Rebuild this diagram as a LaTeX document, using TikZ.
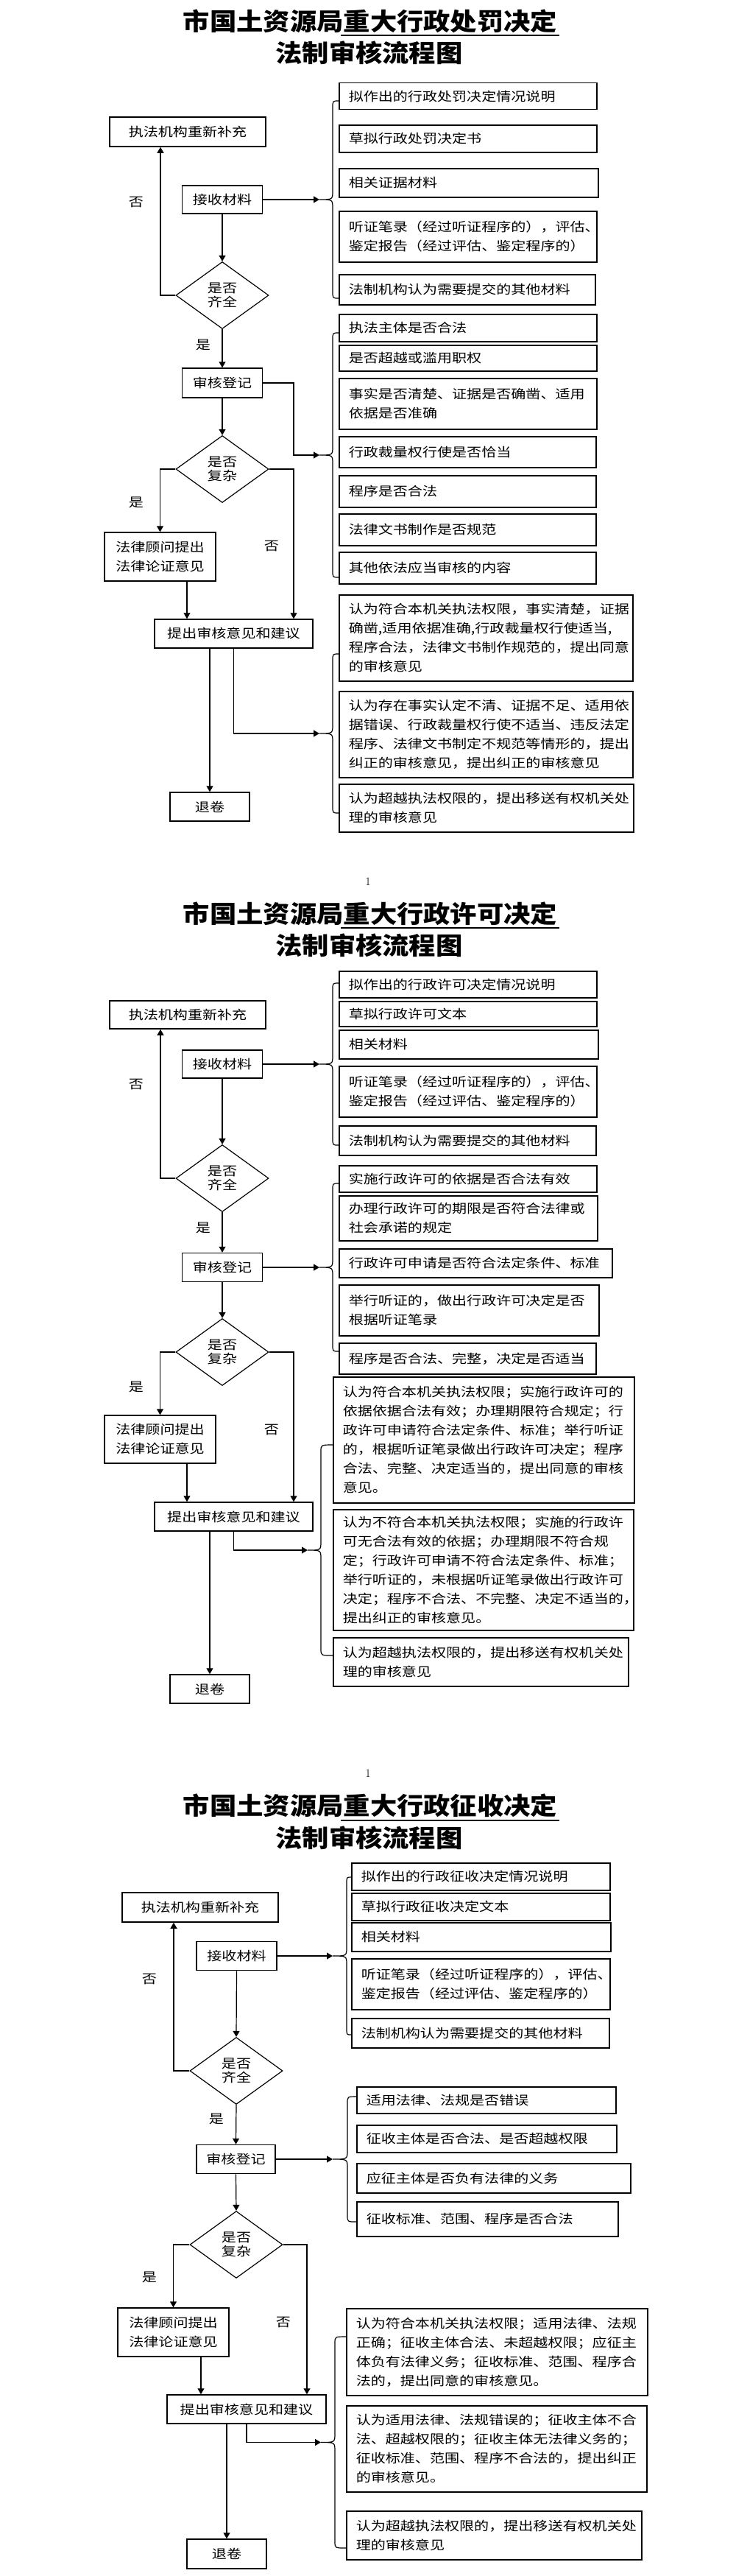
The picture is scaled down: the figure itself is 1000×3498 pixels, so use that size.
\documentclass[tikz,border=0pt]{standalone}
\usepackage{fontspec}
\usetikzlibrary{arrows.meta,shapes.geometric}
\newfontfamily\zwfont[FakeStretch=1.18]{Noto Sans CJK SC}
\newfontfamily\btfont[FakeStretch=1.1]{Noto Sans CJK SC}
\newcommand{\zw}{\zwfont\fontsize{17}{26}\selectfont}
\newcommand{\zwl}{\zwfont\fontsize{17}{19}\selectfont}
\newcommand{\bt}{\btfont\bfseries\fontsize{33}{43}\selectfont}
% 大括号: 名称, 框左边x, 竖线x, 尖端x, 上端y, 下端y
\newcommand{\kuohao}[6]{%
  \coordinate (#1) at (#4,{(#5+#6)/2});
  \draw[kh] (#2,#5) .. controls (#3,#5) .. (#3,#5+9)
    -- (#3,{(#5+#6)/2-12}) .. controls (#3,{(#5+#6)/2}) .. (#1)
    .. controls (#3,{(#5+#6)/2}) .. (#3,{(#5+#6)/2+12})
    -- (#3,#6-9) .. controls (#3,#6) .. (#2,#6);}
\tikzset{
  kuang/.style={draw,line width=1.5pt,inner sep=0pt,font=\zw,align=center},
  yk/.style 2 args={draw,line width=1.5pt,anchor=north west,inner xsep=13pt,inner ysep=0pt,
    align=left,font=\zw,minimum width=#1pt,minimum height=#2pt,
    /utils/exec={\pgfmathsetmacro\kuan{#1-26}},text width=\kuan pt},
  lingxing/.style={draw,diamond,line width=1.2pt,inner sep=0pt,font=\zwl,align=center,
    minimum width=126pt,minimum height=91pt},
  jt/.style={-{Triangle[length=8pt,width=9pt]},line width=1.2pt},
  kh/.style={line width=1.2pt},
  bq/.style={font=\zw},
  bt/.style={font=\bt,inner sep=0pt}
}
\begin{document}
\begin{tikzpicture}[x=1pt,y=-1pt]
\useasboundingbox (0,0) rectangle (1000,3498);
\fill[white] (0,0) rectangle (1000,3498);

% ===================== 处罚 =====================
\node[bt] (bt1a) at (503,29) {市国土资源局重大行政处罚决定};
\node[bt] (bt1b) at (501.5,72) {法制审核流程图};
\draw[line width=2pt] (463,48) -- (760,48);

\node[kuang,minimum width=212pt,minimum height=40pt] (bc1) at (255,179) {执法机构重新补充};
\node[kuang,minimum width=109pt,minimum height=38pt] (js1) at (302,271) {接收材料};
\node[lingxing] (qq1) at (302,401) {是否\\齐全};
\node[kuang,minimum width=109pt,minimum height=40pt] (dj1) at (302,520) {审核登记};
\node[lingxing] (fz1) at (302,637) {是否\\复杂};
\node[kuang,minimum width=151pt,minimum height=66pt] (gw1) at (217.5,756) {法律顾问提出\\法律论证意见};
\node[kuang,minimum width=215pt,minimum height=39pt] (tc1) at (317.5,860.5) {提出审核意见和建议};
\node[kuang,minimum width=108pt,minimum height=39pt] (tj1) at (285,1095.5) {退卷};

\node[bq] (f11) at (185,275) {否};
\node[bq] (s11) at (276,468) {是};
\node[bq] (s12) at (185,682) {是};
\node[bq] (f12) at (369,742) {否};

\node[yk={350}{36}] (a11) at (460,112) {拟作出的行政处罚决定情况说明};
\node[yk={350}{37}] (a12) at (460,169) {草拟行政处罚决定书};
\node[yk={352}{39}] (a13) at (460,228) {相关证据材料};
\node[yk={350}{69}] (a14) at (460,286) {听证笔录（经过听证程序的），评估、\\鉴定报告（经过评估、鉴定程序的）};
\node[yk={348}{41}] (a15) at (460,372) {法制机构认为需要提交的其他材料};

\node[yk={350}{37}] (b11) at (460,426) {执法主体是否合法};
\node[yk={350}{35}] (b12) at (460,468) {是否超越或滥用职权};
\node[yk={350}{69}] (b13) at (460,513) {事实是否清楚、证据是否确凿、适用\\依据是否准确};
\node[yk={349}{42}] (b14) at (460,592) {行政裁量权行使是否恰当};
\node[yk={349}{43}] (b15) at (460,645) {程序是否合法};
\node[yk={349}{43}] (b16) at (460,697) {法律文书制作是否规范};
\node[yk={349}{43}] (b17) at (460,749) {其他依法应当审核的内容};

\node[yk={399}{117}] (c11) at (460,807) {认为符合本机关执法权限，事实清楚，证据\\确凿,适用依据准确,行政裁量权行使适当,\\程序合法，法律文书制作规范的，提出同意\\的审核意见};
\node[yk={399}{117}] (c12) at (460,938) {认为存在事实认定不清、证据不足、适用依\\据错误、行政裁量权行使不适当、违反法定\\程序、法律文书制定不规范等情形的，提出\\纠正的审核意见，提出纠正的审核意见};
\node[yk={400}{65}] (c13) at (460,1064) {认为超越执法权限的，提出移送有权机关处\\理的审核意见};

\kuohao{t11}{460}{452}{434}{137}{405}
\kuohao{t12}{460}{452}{434}{452}{784}
\kuohao{t13}{460}{452}{434}{888}{1104}

\draw[jt] (js1.east) -- (t11);
\draw[jt] (js1.south) -- (qq1.north);
\draw[jt] (qq1.west) -| ([xshift=-37]bc1.south);
\draw[jt] (qq1.south) -- (dj1.north);
\draw[jt] (dj1.east) -| ([xshift=-35]t12) -- (t12);
\draw[jt] (dj1.south) -- (fz1.north);
\draw[jt] (fz1.west) -| (gw1.north);
\draw[jt] (fz1.east) -| ([xshift=81.5]tc1.north);
\draw[jt] ([xshift=36.5]gw1.south) -- ([xshift=36.5]gw1.south |- tc1.north);
\draw[jt] (tj1.north |- tc1.south) -- (tj1.north);
\draw[jt] (tc1.south) |- (t13);

% ===================== 许可 =====================
\node[font=\fontsize{16}{16}\selectfont] (ym1) at (500,1197) {1};
\node[bt] (bt2a) at (503,1241) {市国土资源局重大行政许可决定};
\node[bt] (bt2b) at (501.5,1284) {法制审核流程图};
\draw[line width=2pt] (463,1260) -- (760,1260);

\node[kuang,minimum width=212pt,minimum height=38pt] (bc2) at (255,1378) {执法机构重新补充};
\node[kuang,minimum width=109pt,minimum height=38pt] (js2) at (302,1445) {接收材料};
\node[lingxing] (qq2) at (302,1600) {是否\\齐全};
\node[kuang,minimum width=109pt,minimum height=39pt] (dj2) at (302,1721) {审核登记};
\node[lingxing] (fz2) at (302,1836) {是否\\复杂};
\node[kuang,minimum width=151pt,minimum height=65pt] (gw2) at (217.5,1954.5) {法律顾问提出\\法律论证意见};
\node[kuang,minimum width=215pt,minimum height=39pt] (tc2) at (317.5,2059.5) {提出审核意见和建议};
\node[kuang,minimum width=108pt,minimum height=39pt] (tj2) at (285,2293.5) {退卷};

\node[bq] (f21) at (185,1473) {否};
\node[bq] (s21) at (276,1667) {是};
\node[bq] (s22) at (185,1883) {是};
\node[bq] (f22) at (369,1942) {否};

\node[yk={350}{36}] (a21) at (460,1318) {拟作出的行政许可决定情况说明};
\node[yk={350}{34}] (a22) at (460,1359) {草拟行政许可文本};
\node[yk={352}{39}] (a23) at (460,1398) {相关材料};
\node[yk={350}{69}] (a24) at (460,1447) {听证笔录（经过听证程序的），评估、\\鉴定报告（经过评估、鉴定程序的）};
\node[yk={349}{40}] (a25) at (460,1528) {法制机构认为需要提交的其他材料};

\node[yk={350}{36}] (b21) at (460,1582) {实施行政许可的依据是否合法有效};
\node[yk={351}{61}] (b22) at (460,1623) {办理行政许可的期限是否符合法律或\\社会承诺的规定};
\node[yk={371}{39}] (b23) at (460,1695) {行政许可申请是否符合法定条件、标准};
\node[yk={353}{69}] (b24) at (460,1744) {举行听证的，做出行政许可决定是否\\根据听证笔录};
\node[yk={349}{42}] (b25) at (460,1823) {程序是否合法、完整，决定是否适当};

\node[yk={409}{171}] (c21) at (452,1869) {认为符合本机关执法权限；实施行政许可的\\依据依据合法有效；办理期限符合规定；行\\政许可申请符合法定条件、标准；举行听证\\的，根据听证笔录做出行政许可决定；程序\\合法、完整、决定适当的，提出同意的审核\\意见。};
\node[yk={408}{164}] (c22) at (452,2049) {认为不符合本机关执法权限；实施的行政许\\可无合法有效的依据；办理期限不符合规\\定；行政许可申请不符合法定条件、标准；\\举行听证的，未根据听证笔录做出行政许可\\决定；程序不合法、不完整、决定不适当的，\\提出纠正的审核意见。};
\node[yk={401}{66}] (c23) at (452,2223) {认为超越执法权限的，提出移送有权机关处\\理的审核意见};

\kuohao{t21}{460}{452}{434}{1335}{1555}
\kuohao{t22}{460}{452}{434}{1607}{1835}
\kuohao{t23}{452}{436}{418}{1962}{2248}

\draw[jt] (js2.east) -- (t21);
\draw[jt] (js2.south) -- (qq2.north);
\draw[jt] (qq2.west) -| ([xshift=-37]bc2.south);
\draw[jt] (qq2.south) -- (dj2.north);
\draw[jt] (dj2.east) -- (t22);
\draw[jt] (dj2.south) -- (fz2.north);
\draw[jt] (fz2.west) -| (gw2.north);
\draw[jt] (fz2.east) -| ([xshift=81.5]tc2.north);
\draw[jt] ([xshift=36.5]gw2.south) -- ([xshift=36.5]gw2.south |- tc2.north);
\draw[jt] (tj2.north |- tc2.south) -- (tj2.north);
\draw[jt] (tc2.south) |- (t23);

% ===================== 征收 =====================
\node[font=\fontsize{16}{16}\selectfont] (ym2) at (500,2408) {1};
\node[bt] (bt3a) at (503,2452) {市国土资源局重大行政征收决定};
\node[bt] (bt3b) at (501.5,2496) {法制审核流程图};
\draw[line width=2pt] (463,2472) -- (760,2472);

\node[kuang,minimum width=212pt,minimum height=40pt] (bc3) at (272,2590) {执法机构重新补充};
\node[kuang,minimum width=109pt,minimum height=39pt] (js3) at (321.5,2656) {接收材料};
\node[lingxing] (qq3) at (321,2812) {是否\\齐全};
\node[kuang,minimum width=107pt,minimum height=39pt] (dj3) at (320.5,2932) {审核登记};
\node[lingxing] (fz3) at (321,3048) {是否\\复杂};
\node[kuang,minimum width=151pt,minimum height=66pt] (gw3) at (235.5,3167) {法律顾问提出\\法律论证意见};
\node[kuang,minimum width=216pt,minimum height=39pt] (tc3) at (335,3271.5) {提出审核意见和建议};
\node[kuang,minimum width=108pt,minimum height=40pt] (tj3) at (308,3468) {退卷};

\node[bq] (f31) at (203,2687) {否};
\node[bq] (s31) at (294,2877) {是};
\node[bq] (s32) at (203,3092) {是};
\node[bq] (f32) at (385,3153) {否};

\node[yk={351}{37}] (a31) at (477,2529) {拟作出的行政征收决定情况说明};
\node[yk={351}{37}] (a32) at (477,2570) {草拟行政征收决定文本};
\node[yk={352}{39}] (a33) at (477,2610) {相关材料};
\node[yk={351}{69}] (a34) at (477,2659) {听证笔录（经过听证程序的），评估、\\鉴定报告（经过评估、鉴定程序的）};
\node[yk={350}{40}] (a35) at (477,2740) {法制机构认为需要提交的其他材料};

\node[yk={352}{36}] (b31) at (484,2833) {适用法律、法规是否错误};
\node[yk={353}{37}] (b32) at (484,2885) {征收主体是否合法、是否超越权限};
\node[yk={372}{40}] (b33) at (484,2937) {应征主体是否负有法律的义务};
\node[yk={355}{47}] (b34) at (484,2989) {征收标准、范围、程序是否合法};

\node[yk={409}{118}] (c31) at (470,3134) {认为符合本机关执法权限；适用法律、法规\\正确；征收主体合法、未超越权限；应征主\\体负有法律义务；征收标准、范围、程序合\\法的，提出同意的审核意见。};
\node[yk={408}{117}] (c32) at (470,3266) {认为适用法律、法规错误的；征收主体不合\\法、超越权限的；征收主体无法律义务的；\\征收标准、范围、程序不合法的，提出纠正\\的审核意见。};
\node[yk={401}{66}] (c33) at (470,3409) {认为超越执法权限的，提出移送有权机关处\\理的审核意见};

\kuohao{t31}{477}{471}{452}{2549}{2763}
\kuohao{t32}{484}{472}{452}{2847}{3017}
\kuohao{t33}{470}{455}{436}{3173}{3460}

\draw[jt] (js3.east) -- (t31);
\draw[jt] (js3.south) -- (qq3.north);
\draw[jt] (qq3.west) -| ([xshift=-36]bc3.south);
\draw[jt] (qq3.south) -- (dj3.north);
\draw[jt] (dj3.east) -- (t32);
\draw[jt] (dj3.south) -- (fz3.north);
\draw[jt] (fz3.west) -| (gw3.north);
\draw[jt] (fz3.east) -| ([xshift=82]tc3.north);
\draw[jt] ([xshift=37.5]gw3.south) -- ([xshift=37.5]gw3.south |- tc3.north);
\draw[jt] (tj3.north |- tc3.south) -- (tj3.north);
\draw[jt] (tc3.south) |- (t33);
\end{tikzpicture}
\end{document}
